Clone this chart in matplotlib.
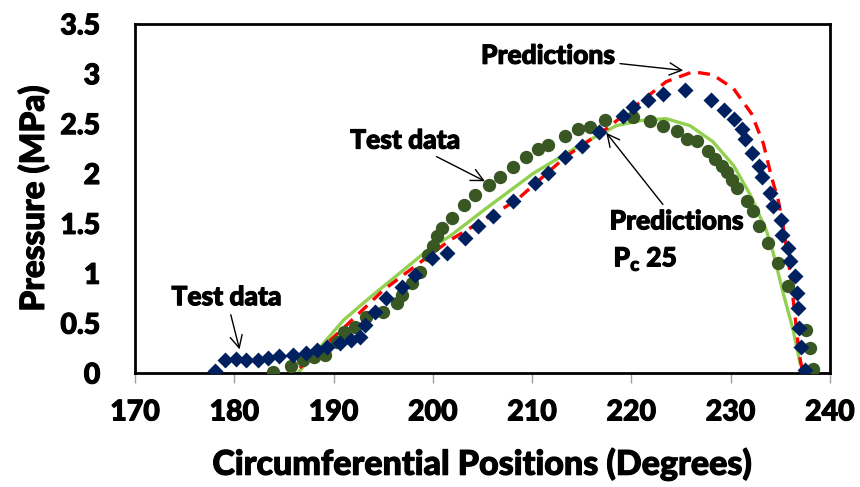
import numpy as np
import matplotlib
matplotlib.use('Agg')
import matplotlib.pyplot as plt
import matplotlib.patheffects as pe
from matplotlib.text import Text

#%% measured pressure, first test run (diamonds)
deg_test1 = [178.1, 179.1, 180.2, 181.2, 182.4, 183.4, 184.5, 185.9, 187.2, 188.3,
             189.3, 190.6, 191.8, 192.7, 193.2, 194.2, 195.3, 196.9, 198.2, 199.9,
             201.4, 203.2, 204.6, 206.1, 208.1, 210.3, 211.6, 213.3, 215.0, 216.7,
             219.2, 220.2, 221.7, 223.2, 225.4, 228.0, 229.3, 230.3, 231.1, 231.4,
             232.2, 232.9, 233.2, 234.0, 234.3, 235.1, 235.2, 235.8, 236.0, 236.5,
             236.7, 236.8, 236.9, 237.1, 237.5]
p_test1 = [0.02, 0.13, 0.14, 0.13, 0.13, 0.15, 0.17, 0.18, 0.20, 0.23,
           0.26, 0.30, 0.33, 0.36, 0.48, 0.61, 0.75, 0.86, 0.98, 1.15,
           1.20, 1.35, 1.47, 1.57, 1.72, 1.90, 2.01, 2.17, 2.28, 2.42,
           2.58, 2.67, 2.74, 2.80, 2.84, 2.74, 2.64, 2.55, 2.45, 2.35,
           2.21, 2.08, 1.97, 1.80, 1.67, 1.53, 1.38, 1.25, 1.12, 0.97,
           0.80, 0.65, 0.45, 0.26, 0.03]

# measured pressure, second test run (circles)
deg_test2 = [183.9, 185.7, 186.9, 188.0, 189.1, 190.3, 191.1, 192.2, 193.3, 195.0,
             196.4, 196.9, 197.9, 198.7, 199.5, 200.0, 200.4, 200.9, 201.9, 203.1,
             204.2, 205.7, 206.8, 208.1, 209.4, 210.6, 211.6, 213.3, 214.6, 215.8,
             217.3, 220.2, 221.9, 223.2, 224.6, 225.6, 226.6, 227.7, 228.4, 229.1,
             229.6, 230.1, 230.6, 231.6, 232.3, 232.9, 233.8, 234.8, 235.8, 237.6,
             238.0, 238.3]
p_test2 = [0.01, 0.07, 0.13, 0.16, 0.18, 0.31, 0.41, 0.46, 0.56, 0.61,
           0.70, 0.78, 0.90, 1.01, 1.18, 1.27, 1.37, 1.45, 1.55, 1.68,
           1.78, 1.88, 1.97, 2.07, 2.17, 2.25, 2.29, 2.38, 2.45, 2.47,
           2.54, 2.57, 2.53, 2.48, 2.43, 2.35, 2.33, 2.23, 2.15, 2.08,
           2.02, 1.93, 1.85, 1.72, 1.62, 1.47, 1.30, 1.10, 0.87, 0.43,
           0.25, 0.04]

# model predictions
deg_pred = [186.6, 191.0, 195.0, 199.0, 201.7, 208.4, 213.4, 217.5, 221.2, 223.5,
            226.2, 228.2, 230.3, 232.1, 233.3, 234.1, 234.8, 235.3, 236.0, 236.5,
            236.9, 237.2]
p_pred = [0.05, 0.45, 0.83, 1.13, 1.33, 1.73, 2.17, 2.45, 2.74, 2.92,
          3.02, 2.99, 2.85, 2.60, 2.30, 1.97, 1.73, 1.47, 1.00, 0.56,
          0.20, 0.03]

# model predictions, Pc 25
deg_pc25 = [186.4, 191.0, 193.7, 196.4, 199.7, 201.7, 205.1, 210.1, 215.1,
            218.5, 220.9, 223.5, 225.9, 228.2, 230.3, 231.9, 233.6, 234.3, 235.3,
            236.3, 237.0]
p_pc25 = [0.00, 0.53, 0.76, 0.98, 1.25, 1.37, 1.63, 2.00, 2.30,
          2.48, 2.53, 2.55, 2.48, 2.32, 2.08, 1.80, 1.43, 1.20, 0.80,
          0.43, 0.10]

xticks = [170, 180, 190, 200, 210, 220, 230, 240]
yticks = [0, 0.5, 1, 1.5, 2, 2.5, 3, 3.5]
ytick_labels = ['0', '0.5', '1', '1.5', '2', '2.5', '3', '3.5']

#%%
plt.rcParams['font.family'] = ['Lato', 'DejaVu Sans']
fw = 'black'

fig = plt.figure(figsize=(8.6, 4.87), dpi=100)
ax = fig.add_axes([0.157, 0.234, 0.808, 0.717])

ax.plot(deg_pc25, p_pc25, color='#92D050', lw=2.4, zorder=2)
ax.plot(deg_pred, p_pred, color='#FF0000', lw=2.4, ls=(0, (3.6, 2.4)), zorder=2)
ax.plot(deg_test2, p_test2, 'o', color='#385723', ms=9.6, mec='none', zorder=3)
ax.plot(deg_test1, p_test1, 'D', color='#002060', ms=7.8, mec='none', zorder=4)

ax.set_xlim(170, 240)
ax.set_ylim(0, 3.5)
ax.set_xticks(xticks)
ax.set_xticklabels([str(t) for t in xticks], fontweight=fw, fontsize=20.5)
ax.set_yticks(yticks)
ax.set_yticklabels(ytick_labels, fontweight=fw, fontsize=20.5)
ax.tick_params(axis='x', direction='out', length=7, width=1, color='#A0A0A0', pad=12)
ax.tick_params(axis='y', length=0, pad=25)
for s in ax.spines.values():
    s.set_linewidth(2)
    s.set_color('black')

ax.set_xlabel('Circumferential Positions (Degrees)', fontsize=24.5, fontweight=fw, labelpad=16)
ax.set_ylabel('Pressure (MPa)', fontsize=24, fontweight=fw, labelpad=8)

# arrows and labels on the curves
arr = dict(arrowstyle='->', color='black', lw=1, mutation_scale=22)
ax.annotate('Predictions', xy=(225.5, 3.03), xytext=(218.3, 3.18), fontsize=19,
            fontweight=fw, ha='right', va='center', arrowprops=arr)
ax.annotate('Test data', xy=(205.5, 1.91), xytext=(197.2, 2.33), fontsize=19,
            fontweight=fw, ha='center', va='center', arrowprops=arr)
ax.annotate('Test data', xy=(180.6, 0.21), xytext=(179.2, 0.76), fontsize=19,
            fontweight=fw, ha='center', va='center', arrowprops=arr)
ax.annotate('Predictions', xy=(217.3, 2.43), xytext=(217.8, 1.52), fontsize=19,
            fontweight=fw, ha='left', va='center', arrowprops=arr)
ax.text(218.2, 1.14, r'P$_\mathregular{c}$ 25', fontsize=19, fontweight=fw,
        ha='left', va='center')

# heavier strokes on all text
for t in fig.findobj(Text):
    t.set_path_effects([pe.withStroke(linewidth=0.8, foreground='black')])

fig.savefig('out.png', dpi=100)
